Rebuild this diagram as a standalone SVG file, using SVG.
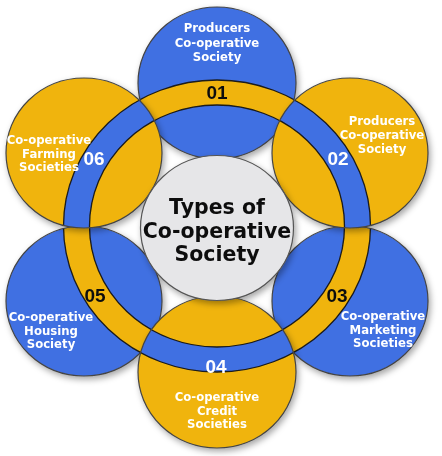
<svg xmlns="http://www.w3.org/2000/svg" width="442" height="456" viewBox="0 0 442 456">
<style>
.lbl{font-family:"DejaVu Sans","Liberation Sans",sans-serif;font-weight:bold;font-size:11.7px;fill:#ffffff;text-anchor:middle}
.num{font-family:"Liberation Sans",Arial,sans-serif;font-weight:bold;font-size:19px;text-anchor:middle}
.dark{fill:#111111}
.light{fill:#ffffff}
.title{font-family:"DejaVu Sans","Liberation Sans",sans-serif;font-weight:bold;font-size:20.5px;fill:#111111;text-anchor:middle}
.blue{fill:#3F6FE2}
.yellow{fill:#F0B40A}
.ring{fill-rule:evenodd;stroke:#1a1a1a;stroke-width:1.3}
.edge{fill:none;stroke:#444444;stroke-width:1.2}
</style>
<defs>
<filter id="sh" x="-20%" y="-20%" width="140%" height="140%">
<feDropShadow dx="2" dy="3" stdDeviation="3" flood-color="#000" flood-opacity="0.35"/>
</filter>
<path id="ringPath" d="M63.5,226a153.5,146 0 1,0 307,0a153.5,146 0 1,0 -307,0ZM89.5,226a127.5,121 0 1,0 255,0a127.5,121 0 1,0 -255,0Z"/>
<clipPath id="c1"><ellipse cx="217" cy="83" rx="79" ry="76"/></clipPath>
<clipPath id="c2"><ellipse cx="350" cy="153" rx="78" ry="75"/></clipPath>
<clipPath id="c3"><ellipse cx="350" cy="301" rx="78" ry="75"/></clipPath>
<clipPath id="c4"><ellipse cx="217" cy="372" rx="79" ry="76"/></clipPath>
<clipPath id="c5"><ellipse cx="84" cy="301" rx="78" ry="75"/></clipPath>
<clipPath id="c6"><ellipse cx="84" cy="153" rx="78" ry="75"/></clipPath>
</defs>

<g id="node-01" filter="url(#sh)">
<ellipse cx="217" cy="83" rx="79" ry="76" class="blue"/>
<use href="#ringPath" class="yellow ring" clip-path="url(#c1)"/>
<ellipse cx="217" cy="83" rx="79" ry="76" class="edge"/>
<text class="lbl" x="217" y="32">Producers</text>
<text class="lbl" x="217" y="47">Co-operative</text>
<text class="lbl" x="217" y="61">Society</text>
<text class="num dark" x="217" y="99">01</text>
</g>

<g id="node-03" filter="url(#sh)">
<ellipse cx="350" cy="301" rx="78" ry="75" class="blue"/>
<use href="#ringPath" class="yellow ring" clip-path="url(#c3)"/>
<ellipse cx="350" cy="301" rx="78" ry="75" class="edge"/>
<text class="lbl" x="383" y="320">Co-operative</text>
<text class="lbl" x="383" y="334">Marketing</text>
<text class="lbl" x="383" y="347">Societies</text>
<text class="num dark" x="337" y="302">03</text>
</g>

<g id="node-05" filter="url(#sh)">
<ellipse cx="84" cy="301" rx="78" ry="75" class="blue"/>
<use href="#ringPath" class="yellow ring" clip-path="url(#c5)"/>
<ellipse cx="84" cy="301" rx="78" ry="75" class="edge"/>
<text class="lbl" x="51" y="321">Co-operative</text>
<text class="lbl" x="51" y="335">Housing</text>
<text class="lbl" x="51" y="348">Society</text>
<text class="num dark" x="95" y="302">05</text>
</g>

<g id="node-02" filter="url(#sh)">
<ellipse cx="350" cy="153" rx="78" ry="75" class="yellow"/>
<use href="#ringPath" class="blue ring" clip-path="url(#c2)"/>
<ellipse cx="350" cy="153" rx="78" ry="75" class="edge"/>
<text class="lbl" x="382" y="125">Producers</text>
<text class="lbl" x="382" y="139">Co-operative</text>
<text class="lbl" x="382" y="153">Society</text>
<text class="num light" x="338" y="165">02</text>
</g>

<g id="node-04" filter="url(#sh)">
<ellipse cx="217" cy="372" rx="79" ry="76" class="yellow"/>
<use href="#ringPath" class="blue ring" clip-path="url(#c4)"/>
<ellipse cx="217" cy="372" rx="79" ry="76" class="edge"/>
<text class="num light" x="216" y="373">04</text>
<text class="lbl" x="217" y="401">Co-operative</text>
<text class="lbl" x="217" y="415">Credit</text>
<text class="lbl" x="217" y="428">Societies</text>
</g>

<g id="node-06" filter="url(#sh)">
<ellipse cx="84" cy="153" rx="78" ry="75" class="yellow"/>
<use href="#ringPath" class="blue ring" clip-path="url(#c6)"/>
<ellipse cx="84" cy="153" rx="78" ry="75" class="edge"/>
<text class="lbl" x="49" y="144">Co-operative</text>
<text class="lbl" x="49" y="158">Farming</text>
<text class="lbl" x="49" y="171">Societies</text>
<text class="num light" x="94" y="165">06</text>
</g>

<g id="connectors"></g>

<g id="center" filter="url(#sh)">
<ellipse cx="217" cy="228" rx="76.5" ry="72.5" fill="#E6E6E8" stroke="#555555" stroke-width="1.2"/>
<text class="title" x="217" y="214">Types of</text>
<text class="title" x="217" y="238">Co-operative</text>
<text class="title" x="217" y="261">Society</text>
</g>
</svg>
